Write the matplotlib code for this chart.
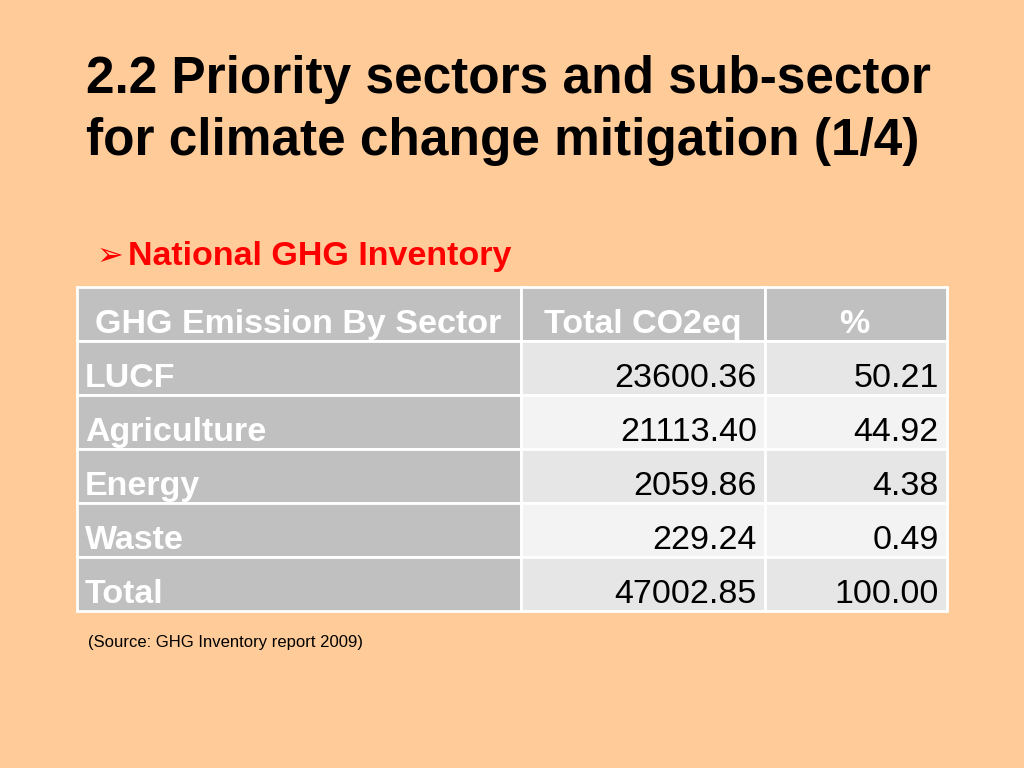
import matplotlib.pyplot as plt
from matplotlib.patches import Rectangle

# table data
header = ["GHG Emission By Sector", "Total CO2eq", "%"]
sectors = ["LUCF", "Agriculture", "Energy", "Waste", "Total"]
co2eq = [23600.36, 21113.40, 2059.86, 229.24, 47002.85]
percent = [50.21, 44.92, 4.38, 0.49, 100.00]

title_lines = ["2.2 Priority sectors and sub-sector", "for climate change mitigation (1/4)"]
subtitle = "National GHG Inventory"
source = "(Source: GHG Inventory report 2009)"

BG = "#ffcc99"
GREY = "#c0c0c0"
ROW_DARK = "#e6e6e6"
ROW_LIGHT = "#f3f3f3"

plt.rcParams['font.family'] = ['Liberation Sans', 'DejaVu Sans']

fig = plt.figure(figsize=(10.24, 7.68), dpi=100, facecolor=BG)
ax = fig.add_axes([0, 0, 1, 1])
ax.set_xlim(0, 1024)
ax.set_ylim(768, 0)
ax.axis('off')

# title
for i, line in enumerate(title_lines):
    ax.text(86, 93 + i * 62, line, fontsize=37, fontweight='bold',
            color='black', ha='left', va='baseline')

ax.text(96, 265, "\u27a2", fontsize=23, color='#ff0000', ha='left', va='baseline',
        family=['DejaVu Sans'])
ax.text(128, 265, subtitle, fontsize=24.5, fontweight='bold', color='#ff0000',
        ha='left', va='baseline')

# table layout
col_x = [77, 521, 765, 947]
top = 287
head_h = 54
row_h = 54

def cell(x0, x1, y0, h, color):
    r = Rectangle((x0, y0), x1 - x0, h, facecolor=color,
                  edgecolor='white', linewidth=2)
    ax.add_patch(r)
    return r

# header row
hcells = [cell(col_x[c], col_x[c + 1], top, head_h, GREY) for c in range(3)]
hx = [col_x[0] + 18, (col_x[1] + col_x[2]) / 2, (col_x[2] + col_x[3]) / 2 - 2]
ha = ['left', 'center', 'center']
for c, name in enumerate(header):
    t = ax.text(hx[c], top + 46, name, fontsize=24.5, fontweight='bold',
                color='white', ha=ha[c], va='baseline')
    t.set_clip_path(hcells[c])

# body rows
for r, name in enumerate(sectors):
    y0 = top + head_h + r * row_h
    shade = ROW_DARK if r % 2 == 0 else ROW_LIGHT
    cell(col_x[0], col_x[1], y0, row_h, GREY)
    cell(col_x[1], col_x[2], y0, row_h, shade)
    cell(col_x[2], col_x[3], y0, row_h, shade)
    base = y0 + 46
    ax.text(col_x[0] + 8, base, name, fontsize=24.5, fontweight='bold',
            color='white', ha='left', va='baseline')
    ax.text(col_x[2] - 8, base, f"{co2eq[r]:.2f}", fontsize=24.5,
            color='black', ha='right', va='baseline')
    ax.text(col_x[3] - 8, base, f"{percent[r]:.2f}", fontsize=24.5,
            color='black', ha='right', va='baseline')

ax.text(88, 647, source, fontsize=12, color='black', ha='left', va='baseline')

fig.savefig("out.png", dpi=100, facecolor=BG)
